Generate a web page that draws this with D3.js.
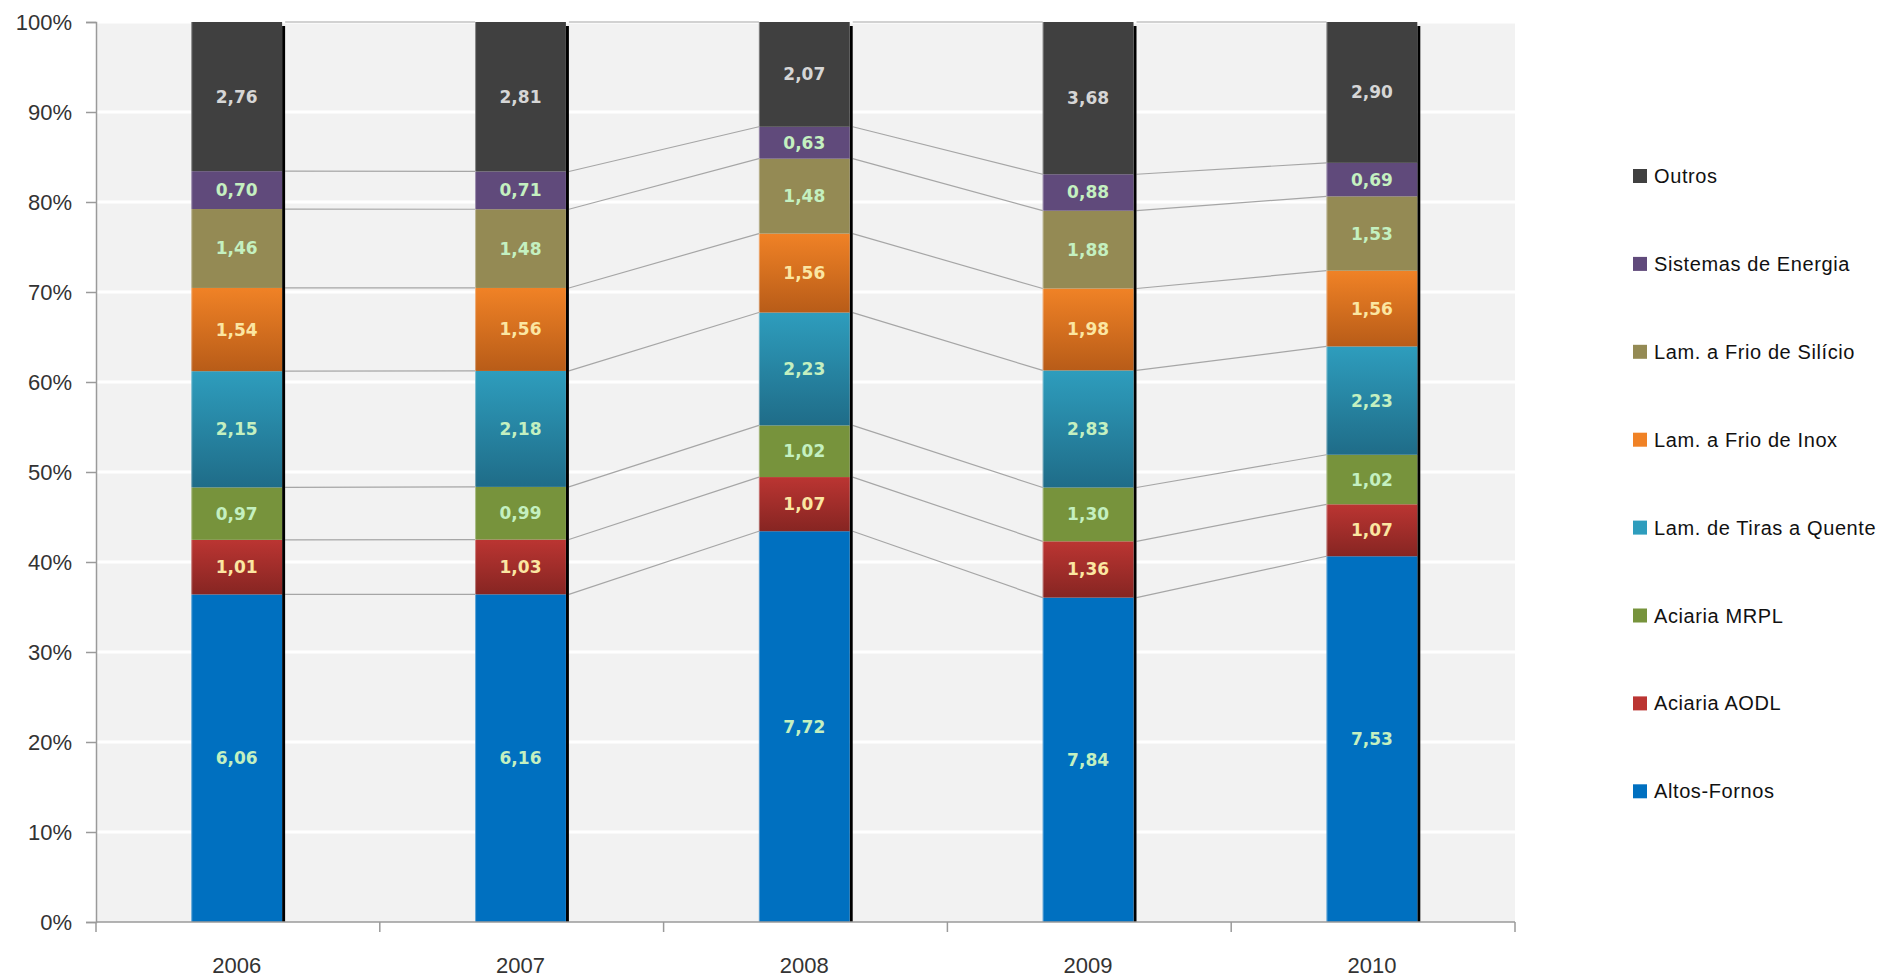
<!DOCTYPE html>
<html>
<head>
<meta charset="utf-8">
<script src="https://cdn.jsdelivr.net/npm/d3@7"></script>
<style>
  html, body { margin: 0; padding: 0; background: #ffffff; }
  svg { display: block; }
</style>
</head>
<body>
<svg id="chart" width="1881" height="977"></svg>
<script>
// ---------- DATA ----------
const categories = ["2006", "2007", "2008", "2009", "2010"];
const seriesNames = ["Altos-Fornos", "Aciaria AODL", "Aciaria MRPL", "Lam. de Tiras a Quente",
                     "Lam. a Frio de Inox", "Lam. a Frio de Silício", "Sistemas de Energia", "Outros"];
const altosFornos   = [6.06, 6.16, 7.72, 7.84, 7.53];
const aciariaAODL   = [1.01, 1.03, 1.07, 1.36, 1.07];
const aciariaMRPL   = [0.97, 0.99, 1.02, 1.30, 1.02];
const tirasQuente   = [2.15, 2.18, 2.23, 2.83, 2.23];
const frioInox      = [1.54, 1.56, 1.56, 1.98, 1.56];
const frioSilicio   = [1.46, 1.48, 1.48, 1.88, 1.53];
const sistEnergia   = [0.70, 0.71, 0.63, 0.88, 0.69];
const outros        = [2.76, 2.81, 2.07, 3.68, 2.90];
const yTicks = [0, 0.1, 0.2, 0.3, 0.4, 0.5, 0.6, 0.7, 0.8, 0.9, 1.0];

const seriesValues = [altosFornos, aciariaAODL, aciariaMRPL, tirasQuente, frioInox, frioSilicio, sistEnergia, outros];

// ---------- STYLE ----------
const colors = {
  "Altos-Fornos": ["#0070c0", "#0070c0"],
  "Aciaria AODL": ["#bb3532", "#862522"],
  "Aciaria MRPL": ["#77933c", "#77933c"],
  "Lam. de Tiras a Quente": ["#2e9dbd", "#1f6c88"],
  "Lam. a Frio de Inox": ["#f08226", "#b85c18"],
  "Lam. a Frio de Silício": ["#948a54", "#948a54"],
  "Sistemas de Energia": ["#604a7b", "#604a7b"],
  "Outros": ["#404040", "#404040"]
};
const labelColors = {
  "Altos-Fornos": "#c4f0c0",
  "Aciaria AODL": "#fbe6a2",
  "Aciaria MRPL": "#c4f0c0",
  "Lam. de Tiras a Quente": "#c4f0c0",
  "Lam. a Frio de Inox": "#fbe6a2",
  "Lam. a Frio de Silício": "#c4f0c0",
  "Sistemas de Energia": "#c4f0c0",
  "Outros": "#d6d6d6"
};

const margin = { left: 96, right: 1881 - 1515, top: 22, bottom: 977 - 922 };
const svg = d3.select("#chart");

// build table
const table = categories.map((c, i) => {
  const row = { cat: c };
  seriesNames.forEach((s, k) => row[s] = seriesValues[k][i]);
  return row;
});
const stack = d3.stack().keys(seriesNames).offset(d3.stackOffsetExpand);
const stacked = stack(table);

const x = d3.scaleBand().domain(categories).range([margin.left, 1515]).padding(0);
const y = d3.scaleLinear().domain([0, 1]).range([922, margin.top]);
const barW = x.bandwidth() * 0.32;
const barX = c => x(c) + x.bandwidth() / 2 - barW / 2 - 1.2;

// gradients
const defs = svg.append("defs");
seriesNames.forEach((s, k) => {
  const g = defs.append("linearGradient").attr("id", "grad" + k)
    .attr("x1", 0).attr("y1", 0).attr("x2", 0).attr("y2", 1);
  g.append("stop").attr("offset", "0%").attr("stop-color", colors[s][0]);
  g.append("stop").attr("offset", "100%").attr("stop-color", colors[s][1]);
});

// plot background
svg.append("rect").attr("x", margin.left).attr("y", margin.top)
  .attr("width", 1515 - margin.left).attr("height", 922 - margin.top)
  .attr("fill", "#f2f2f2");

// gridlines
svg.append("g").selectAll("line").data(yTicks.filter(t => t > 0)).join("line")
  .attr("x1", margin.left).attr("x2", 1515)
  .attr("y1", d => y(d)).attr("y2", d => y(d))
  .attr("stroke", "#ffffff").attr("stroke-width", 3);

// series lines (connect segment tops between bars)
const lineG = svg.append("g");
stacked.forEach(layer => {
  for (let i = 0; i < categories.length - 1; i++) {
    const a = layer[i], b = layer[i + 1];
    lineG.append("line")
      .attr("x1", barX(categories[i]) + barW + 3).attr("y1", y(a[1]))
      .attr("x2", barX(categories[i + 1])).attr("y2", y(b[1]))
      .attr("stroke", "#a6a6a6").attr("stroke-width", 1.2);
  }
});

// bar shadows
svg.append("g").selectAll("rect").data(categories).join("rect")
  .attr("x", d => barX(d) + barW).attr("y", y(1) + 4)
  .attr("width", 3).attr("height", y(0) - y(1) - 4)
  .attr("fill", "#000000");

// bars
const layers = svg.append("g").selectAll("g").data(stacked).join("g")
  .attr("fill", (d, k) => `url(#grad${k})`);
layers.selectAll("rect").data(d => d).join("rect")
  .attr("x", d => barX(d.data.cat))
  .attr("y", d => y(d[1]))
  .attr("width", barW)
  .attr("height", d => y(d[0]) - y(d[1]));

// thin light left edge of bars
svg.append("g").selectAll("line").data(categories).join("line")
  .attr("x1", d => barX(d) + 0.5).attr("x2", d => barX(d) + 0.5)
  .attr("y1", y(1)).attr("y2", y(0))
  .attr("stroke", "rgba(255,255,255,0.35)").attr("stroke-width", 1);

// value labels
const fmt = v => d3.format(".2f")(v).replace(".", ",");
stacked.forEach((layer, k) => {
  const s = seriesNames[k];
  svg.append("g").selectAll("text").data(layer).join("text")
    .attr("x", d => barX(d.data.cat) + barW / 2)
    .attr("y", d => (y(d[0]) + y(d[1])) / 2)
    .attr("text-anchor", "middle")
    .attr("dominant-baseline", "central")
    .attr("font-family", "DejaVu Sans")
    .attr("font-weight", "bold")
    .attr("font-size", 17)
    .attr("fill", labelColors[s])
    .text(d => fmt(d.data[s]));
});

// Y axis
const yAxis = d3.axisLeft(y).tickValues(yTicks).tickFormat(d3.format(".0%"))
  .tickSize(10).tickPadding(14);
const yg = svg.append("g").attr("transform", `translate(${margin.left},0)`).call(yAxis);
yg.select(".domain").attr("stroke", "#9a9a9a").attr("stroke-width", 1.5);
yg.selectAll(".tick line").attr("stroke", "#9a9a9a").attr("stroke-width", 1.5);
yg.selectAll(".tick text").attr("font-family", "Liberation Sans, Arial, sans-serif")
  .attr("font-size", 22).attr("fill", "#333333");

// X axis
const xg = svg.append("g");
xg.append("line").attr("x1", margin.left).attr("x2", 1515).attr("y1", 922).attr("y2", 922)
  .attr("stroke", "#9a9a9a").attr("stroke-width", 1.5);
const boundaries = categories.map(c => x(c)).concat([x(categories[categories.length - 1]) + x.bandwidth()]);
xg.selectAll("line.tk").data(boundaries).join("line").attr("class", "tk")
  .attr("x1", d => d).attr("x2", d => d).attr("y1", 922).attr("y2", 932)
  .attr("stroke", "#9a9a9a").attr("stroke-width", 1.5);
xg.selectAll("text").data(categories).join("text")
  .attr("x", d => x(d) + x.bandwidth() / 2 - 1.2)
  .attr("y", 965)
  .attr("text-anchor", "middle")
  .attr("dominant-baseline", "central")
  .attr("font-family", "Liberation Sans, Arial, sans-serif")
  .attr("font-size", 22)
  .attr("fill", "#333333")
  .text(d => d);

// Legend
const legendOrder = seriesNames.slice().reverse();
const lg = svg.append("g");
const item = lg.selectAll("g").data(legendOrder).join("g")
  .attr("transform", (d, i) => `translate(1633, ${176 + i * 87.9})`);
item.append("rect").attr("x", 0).attr("y", -7).attr("width", 14).attr("height", 14)
  .attr("fill", d => colors[d][0]);
item.append("text").attr("x", 21).attr("y", 0)
  .attr("dominant-baseline", "central")
  .attr("font-family", "Liberation Sans, Arial, sans-serif")
  .attr("font-size", 20)
  .attr("letter-spacing", 0.6)
  .attr("fill", "#111111")
  .text(d => d);
</script>
</body>
</html>
